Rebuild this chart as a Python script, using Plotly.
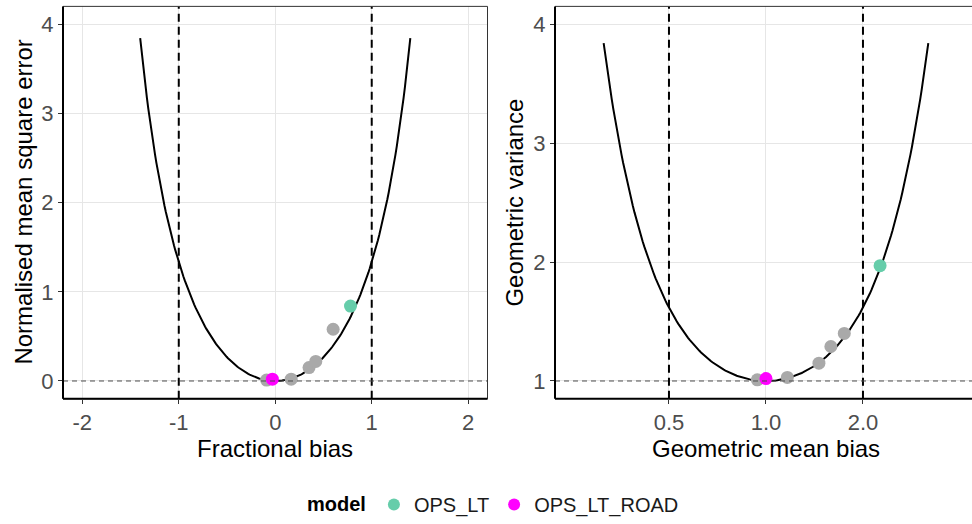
import numpy as np
import plotly.graph_objects as go

# ---- data ----
fb_gray = [-0.09, 0.165, 0.35, 0.42, 0.60]
nmse_gray = [0.01, 0.02, 0.15, 0.22, 0.58]
fb_ops = [0.78]
nmse_ops = [0.84]
fb_road = [-0.03]
nmse_road = [0.02]

mg_gray = [0.94, 1.165, 1.46, 1.59, 1.75]
vg_gray = [1.01, 1.03, 1.15, 1.29, 1.40]
mg_ops = [2.26]
vg_ops = [1.97]
mg_road = [1.0]
vg_road = [1.02]

fb_ticks = [-2, -1, 0, 1, 2]
nmse_ticks = [0, 1, 2, 3, 4]
mg_ticks = [0.5, 1.0, 2.0]
mg_ticklabels = ["0.5", "1.0", "2.0"]
vg_ticks = [1, 2, 3, 4]

fb_limits = [-1.0, 1.0]
mg_limits = [0.5, 2.0]

# theoretical minimum curves (definitions of the metrics)
fb_curve = np.linspace(-1.4, 1.4, 201)
nmse_curve = 4 * fb_curve**2 / (4 - fb_curve**2)
lnmg = np.linspace(-1.16, 1.16, 201)
mg_curve = np.exp(lnmg)
vg_curve = np.exp(lnmg**2)

GRAY = "#A9A9A9"
GREEN = "#66CDAA"
MAG = "#FF00FF"
FONT = "Liberation Sans, Arial, sans-serif"
MS = 13

fig = go.Figure()

# left panel
fig.add_trace(go.Scatter(x=fb_curve, y=nmse_curve, mode="lines",
                         line=dict(color="black", width=2), showlegend=False,
                         xaxis="x", yaxis="y"))
fig.add_trace(go.Scatter(x=fb_gray, y=nmse_gray, mode="markers",
                         marker=dict(color=GRAY, size=MS), showlegend=False,
                         xaxis="x", yaxis="y"))
fig.add_trace(go.Scatter(x=fb_ops, y=nmse_ops, mode="markers", name="OPS_LT",
                         marker=dict(color=GREEN, size=MS), showlegend=True,
                         legendgroup="a", xaxis="x", yaxis="y"))
fig.add_trace(go.Scatter(x=fb_road, y=nmse_road, mode="markers", name="OPS_LT_ROAD",
                         marker=dict(color=MAG, size=MS), showlegend=True,
                         legendgroup="b", xaxis="x", yaxis="y"))

# right panel
fig.add_trace(go.Scatter(x=mg_curve, y=vg_curve, mode="lines",
                         line=dict(color="black", width=2), showlegend=False,
                         xaxis="x2", yaxis="y2"))
fig.add_trace(go.Scatter(x=mg_gray, y=vg_gray, mode="markers",
                         marker=dict(color=GRAY, size=MS), showlegend=False,
                         xaxis="x2", yaxis="y2"))
fig.add_trace(go.Scatter(x=mg_ops, y=vg_ops, mode="markers", name="OPS_LT",
                         marker=dict(color=GREEN, size=MS), showlegend=False,
                         legendgroup="a", xaxis="x2", yaxis="y2"))
fig.add_trace(go.Scatter(x=mg_road, y=vg_road, mode="markers", name="OPS_LT_ROAD",
                         marker=dict(color=MAG, size=MS), showlegend=False,
                         legendgroup="b", xaxis="x2", yaxis="y2"))

W, H = 972, 524
ytop_px, ybot_px = 6.4, 399.6
ydom = [(H - ybot_px) / H, (H - ytop_px) / H]
x1dom = [63 / W, 487.5 / W]
x2dom = [555 / W, 1.0]

tickfont = dict(family=FONT, size=22, color="#4D4D4D")
axis_common = dict(showgrid=True, gridcolor="#E6E6E6", gridwidth=1, zeroline=False,
                   ticks="outside", ticklen=4, tickcolor="#333333", tickwidth=1,
                   tickfont=tickfont, showline=False, automargin=False)

fig.update_layout(
    width=W, height=H,
    margin=dict(l=0, r=0, t=0, b=0),
    paper_bgcolor="white", plot_bgcolor="white",
    font=dict(family=FONT),
    xaxis=dict(domain=x1dom, range=[-2.2, 2.2], tickvals=fb_ticks, anchor="y",
               ticktext=[str(v) for v in fb_ticks], **axis_common),
    yaxis=dict(domain=ydom, range=[-0.2, 4.2], tickvals=nmse_ticks, anchor="x",
               **axis_common),
    xaxis2=dict(domain=x2dom, type="log", range=[-2.175 * np.log10(2), 2.124 * np.log10(2)],
                tickvals=mg_ticks, ticktext=mg_ticklabels, anchor="y2", **axis_common),
    yaxis2=dict(domain=ydom, range=[0.85, 4.15], tickvals=vg_ticks, anchor="x2",
                **axis_common),
    legend=dict(orientation="h", x=305 / W, xanchor="left", y=(H - 505) / H, yanchor="middle",
                title=dict(text="<b>model</b>", font=dict(family=FONT, size=20, color="black")),
                font=dict(family=FONT, size=20, color="#1A1A1A"),
                itemsizing="constant", bgcolor="rgba(0,0,0,0)"),
)

shapes = []
# reference lines
for v in fb_limits:
    shapes.append(dict(type="line", xref="x", yref="y domain", x0=v, x1=v, y0=0, y1=1,
                       line=dict(color="black", width=2, dash="8px,5px")))
for v in mg_limits:
    shapes.append(dict(type="line", xref="x2", yref="y2 domain", x0=v, x1=v, y0=0, y1=1,
                       line=dict(color="black", width=2, dash="8px,5px")))
shapes.append(dict(type="line", xref="x domain", yref="y", x0=0, x1=1, y0=0, y1=0,
                   line=dict(color="#4D4D4D", width=1, dash="5px,4px")))
shapes.append(dict(type="line", xref="x2 domain", yref="y2", x0=0, x1=1, y0=1, y1=1,
                   line=dict(color="#4D4D4D", width=1, dash="5px,4px")))
# panel borders
shapes.append(dict(type="rect", xref="x domain", yref="y domain", x0=0, x1=1, y0=0, y1=1,
                   line=dict(color="#333333", width=1)))
shapes.append(dict(type="line", xref="x2 domain", yref="y2 domain", x0=0, x1=1, y0=1, y1=1,
                   line=dict(color="#333333", width=1)))
for xa, ya in (("x", "y"), ("x2", "y2")):
    shapes.append(dict(type="line", xref=f"{xa} domain", yref=f"{ya} domain",
                       x0=0, x1=0, y0=0, y1=1, line=dict(color="black", width=2)))
    shapes.append(dict(type="line", xref=f"{xa} domain", yref=f"{ya} domain",
                       x0=0, x1=1, y0=0, y1=0, line=dict(color="black", width=2)))
fig.update_layout(shapes=shapes)

titlefont = dict(family=FONT, size=24, color="black")
ann = [
    dict(text="Fractional bias", x=275 / W, y=(H - 449) / H, xref="paper", yref="paper",
         showarrow=False, font=titlefont, xanchor="center", yanchor="middle"),
    dict(text="Geometric mean bias", x=766 / W, y=(H - 449) / H, xref="paper", yref="paper",
         showarrow=False, font=titlefont, xanchor="center", yanchor="middle"),
    dict(text="Normalised mean square error", x=24 / W, y=(H - 203) / H, xref="paper",
         yref="paper", showarrow=False, font=titlefont, textangle=-90,
         xanchor="center", yanchor="middle"),
    dict(text="Geometric variance", x=515 / W, y=(H - 203) / H, xref="paper",
         yref="paper", showarrow=False, font=titlefont, textangle=-90,
         xanchor="center", yanchor="middle"),
]
fig.update_layout(annotations=ann)

fig.write_html("out.html")
